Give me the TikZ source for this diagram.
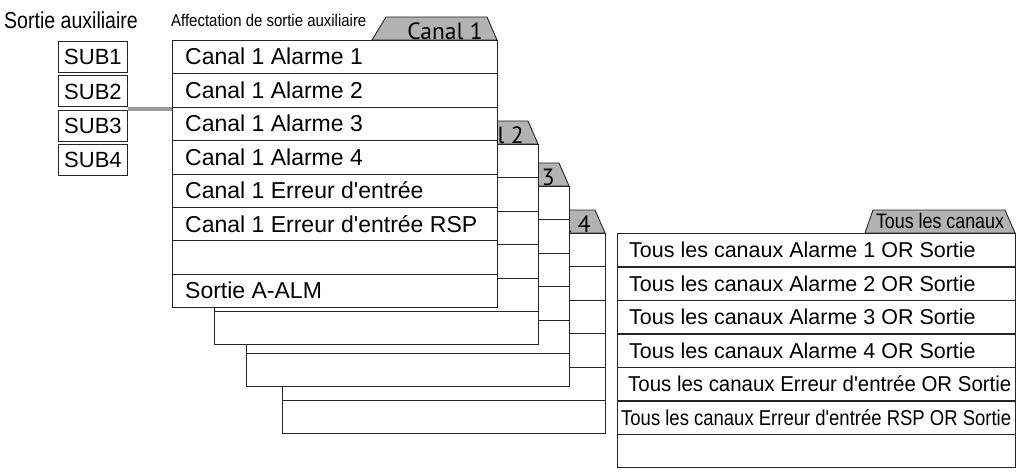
\documentclass[tikz,border=0pt]{standalone}
\usetikzlibrary{calc}
\usepackage{fontspec}
\setmainfont{Liberation Sans}[Ligatures=TeXOff]
\newfontfamily\condf[FakeStretch=0.85]{Liberation Sans}
\newfontfamily\condg[FakeStretch=0.88]{Liberation Sans}
\newfontfamily\tabf{PT Sans}
\begin{document}
\begin{tikzpicture}[x=1pt,y=-1pt,
  row/.style={draw=black!85,line width=0.9pt,fill=white,anchor=north west,inner sep=0pt,minimum height=33.4pt},
  sub/.style={draw=black!85,line width=0.9pt,fill=white,anchor=north west,inner sep=0pt,minimum width=69pt,minimum height=31pt,font=\fontsize{22}{22}\selectfont},
  tab/.style={draw=black!85,line width=0.9pt,fill=black!30},
  rowtxt/.style={anchor=west,inner sep=0pt,font=\fontsize{23}{24}\selectfont},
  rtxt/.style={anchor=west,inner sep=0pt,font=\fontsize{21.5}{22}\selectfont},
  tabtxt/.style={inner sep=0pt,font=\tabf\fontsize{23.5}{24}\selectfont},
  conn/.style={draw=black!40,line width=4pt}]
\useasboundingbox (0,0) rectangle (1026,476);
% stacked boxes: #1 name, #2 left, #3 top, #4 width, #5 rows, #6 tab label
\newcommand\mystack[6]{%
  \draw[tab] (#2+#4-125,#3) -- (#2+#4-111,#3-23) -- (#2+#4-10,#3-23) -- (#2+#4,#3) -- cycle;
  \node[tabtxt] (#1tab) at (#2+#4-52,#3-9) {#6};
  \foreach \k in {1,...,#5}{\node[row,minimum width=#4 pt] (#1r\k) at (#2,#3+33.4*\k-33.4) {};}
}
\mystack{d}{282}{233}{323}{6}{Canal 4}
\mystack{c}{246}{186}{323}{6}{Canal 3}
\mystack{b}{214}{144}{324}{6}{Canal 2}
\mystack{a}{172}{40}{325}{8}{Canal 1}
\node[rowtxt] (a1) at (185,56.7) {Canal 1 Alarme 1};
\node[rowtxt] (a2) at (185,90.1) {Canal 1 Alarme 2};
\node[rowtxt] (a3) at (185,123.5) {Canal 1 Alarme 3};
\node[rowtxt] (a4) at (185,156.9) {Canal 1 Alarme 4};
\node[rowtxt] (a5) at (185,190.3) {Canal 1 Erreur d'entrée};
\node[rowtxt] (a6) at (185,223.7) {Canal 1 Erreur d'entrée RSP};
\node[rowtxt] (a8) at (185,290.5) {Sortie A-ALM};
% all channels
\draw[tab] (865,233) -- (873,210) -- (1005,210) -- (1015,233) -- cycle;
\node[tabtxt,font=\condf\fontsize{21}{21}\selectfont] (etab) at (940,221) {Tous les canaux};
\foreach \k in {1,...,7}{\node[row,minimum width=398pt] (er\k) at (617,233+33.5*\k-33.5) {};}
\node[rtxt] (e1) at (629,250) {Tous les canaux Alarme 1 OR Sortie};
\node[rtxt] (e2) at (629,283.5) {Tous les canaux Alarme 2 OR Sortie};
\node[rtxt] (e3) at (629,317) {Tous les canaux Alarme 3 OR Sortie};
\node[rtxt] (e4) at (629,350.5) {Tous les canaux Alarme 4 OR Sortie};
\node[rtxt] (e5) at (628,384) {\scalebox{0.95}[1]{Tous les canaux Erreur d'entrée OR Sortie}};
\node[rtxt] (e6) at (621,417.5) {\scalebox{0.86}[1]{Tous les canaux Erreur d'entrée RSP OR Sortie}};
% SUB boxes
\node[sub] (s1) at (58,41) {SUB1};
\node[sub] (s2) at (58,75.5) {SUB2};
\node[sub] (s3) at (58,110) {SUB3};
\node[sub] (s4) at (58,144) {SUB4};
\coordinate (cA) at ($(s2.south east)!0.5!(s3.north east)$);
\draw[conn] (cA) -- (cA -| ar3.west);
% headings
\node[anchor=west,inner sep=0pt,font=\condf\fontsize{23}{23}\selectfont] (h1) at (4,20) {Sortie auxiliaire};
\node[anchor=west,inner sep=0pt,font=\condg\fontsize{17}{17}\selectfont] (h2) at (171,20) {Affectation de sortie auxiliaire};
\end{tikzpicture}
\end{document}
